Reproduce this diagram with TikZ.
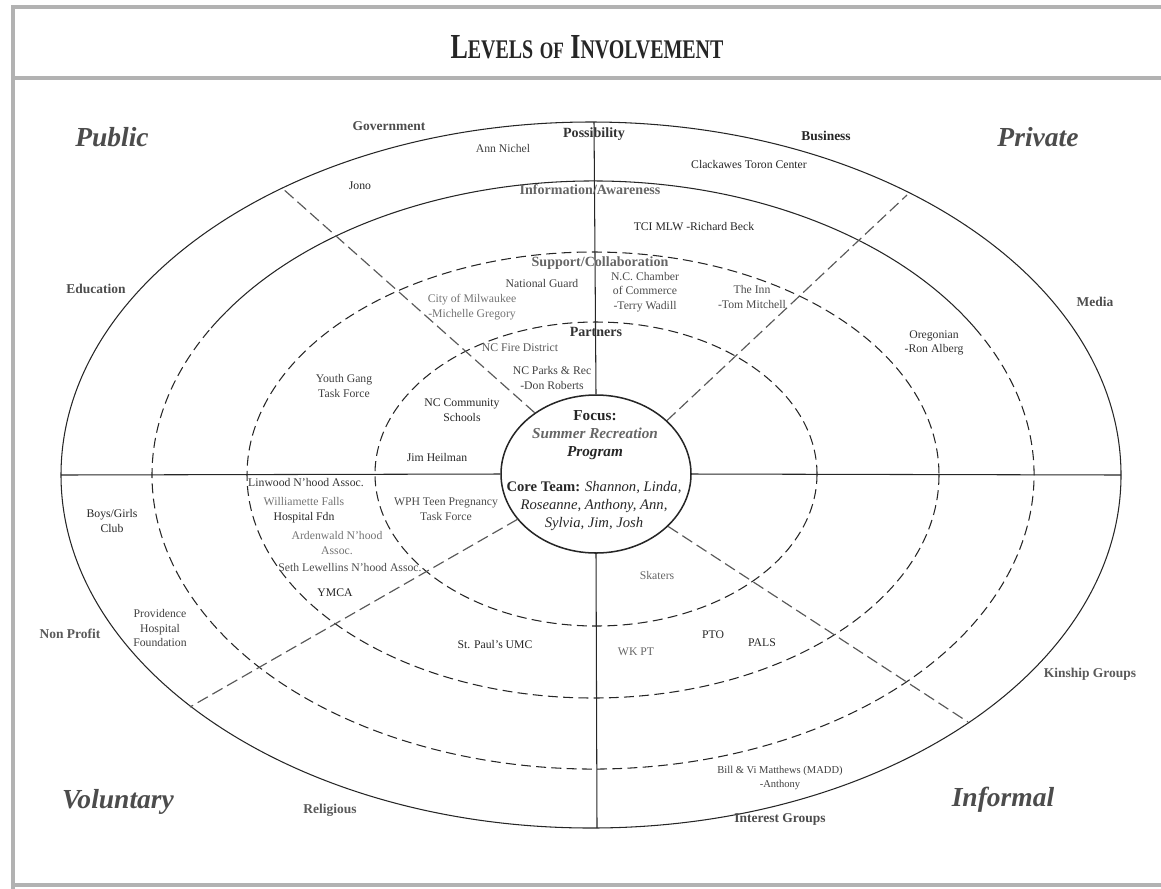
\documentclass[tikz,border=0pt]{standalone}
\usepackage{fontspec}
\setmainfont{Liberation Serif}
\usetikzlibrary{shapes.geometric}

\begin{document}
\begin{tikzpicture}[x=0.03cm,y=-0.03cm,
    ring/.style={black!85,line width=0.9pt},
    dashring/.style={ring,dash pattern=on 8.5pt off 4.5pt},
    spoke/.style={black!65,line width=1pt,dash pattern=on 10pt off 4.5pt},
    quarter/.style={font=\fontsize{23.5}{27}\selectfont\bfseries\itshape,text=black!70},
    sector/.style={font=\fontsize{11.5}{14}\selectfont\bfseries,text=black!70},
    level/.style={font=\fontsize{12}{14}\selectfont\bfseries,text=black!80},
    member/.style={font=\fontsize{10}{12.5}\selectfont,text=black!85,align=center,inner sep=0pt}]
  \useasboundingbox (0,0) rectangle (1161,888);
  \clip (0,0) rectangle (1161,888);
  \draw[black!30,line width=3.5pt] (13,900) -- (13,7) -- (1170,7);
  \draw[black!30,line width=3.5pt] (13,78) -- (1170,78);
  \draw[black!30,line width=3.5pt] (13,885) -- (1170,885);
  \node[anchor=base,text=black!85,inner sep=0pt] (title) at (587,58) {\bfseries\scalebox{0.74}[1]{\fontsize{30}{30}\selectfont L{\fontsize{23}{23}\selectfont EVELS} {\fontsize{20}{20}\selectfont OF} I{\fontsize{23}{23}\selectfont NVOLVEMENT}}};

  \draw[ring] (591,475) ellipse [x radius=530,y radius=353];
  \draw[ring] (211.1,328) arc [start angle=210,end angle=330,x radius=441,y radius=294];
  \draw[dashring] (974.9,328) arc [start angle=-30,end angle=210,x radius=441,y radius=294];
  \draw[dashring] (593,475) ellipse [x radius=346,y radius=223];
  \draw[dashring] (596,474) ellipse [x radius=221,y radius=152];
  \node[draw,ring,line width=1.3pt,ellipse,minimum width=5.7cm,minimum height=4.74cm,inner sep=0pt] (focus) at (596,474) {};

  \coordinate (otop) at (594,122);
  \coordinate (obot) at (597,828);
  \coordinate (oleft) at (61,475);
  \coordinate (oright) at (1121,475);
  \draw[ring] (otop) -- (focus.north);
  \draw[ring] (focus.south) -- (obot);
  \draw[ring] (oleft) -- (focus.west);
  \draw[ring] (focus.east) -- (oright);

  \coordinate (ul) at (282,188);
  \coordinate (ur) at (907,195);
  \coordinate (ll) at (190,707);
  \coordinate (lr) at (968,722);
  \draw[spoke] (focus.135) -- (ul);
  \draw[spoke] (focus.37) -- (ur);
  \draw[spoke] (focus.210) -- (ll);
  \draw[spoke] (focus.324) -- (lr);

  \node[quarter] (public) at (112,137) {Public};
  \node[quarter] (private) at (1038,137) {Private};
  \node[quarter] (voluntary) at (118,802) {Voluntary};
  \node[quarter] (informal) at (1003,800) {Informal};

  \node[level] (possib) at (594,134) {Possibility};
  \node[level,text=black!60] (inform) at (590,190) {Information/Awareness};
  \node[level,text=black!60] (support) at (600,263) {Support/Collaboration};
  \node[level] (partners) at (596,332) {Partners};

  \node[sector] (govt) at (389,126) {Government};
  \node[sector,text=black!85] (business) at (826,136) {Business};
  \node[sector] (educ) at (96,289) {Education};
  \node[sector] (media) at (1095,302) {Media};
  \node[sector,text=black!65] (nonprofit) at (70,634) {Non Profit};
  \node[sector,text=black!65] (kinship) at (1090,674) {Kinship Groups};
  \node[sector,text=black!65] (relig) at (330,810) {Religious};
  \node[sector] (interest) at (780,819) {Interest Groups};

  \node[align=center,font=\fontsize{13}{15.3}\selectfont,text=black!85] (focustext) at (595,435) {\textbf{Focus:}\\{\color{black!60}\textbf{\textit{Summer Recreation}}}\\\textbf{\textit{Program}}};
  \node[align=center,font=\fontsize{12.5}{15.5}\selectfont,text=black!85] (core) at (594,506) {\textbf{Core Team:} \textit{Shannon, Linda,}\\\textit{Roseanne, Anthony, Ann,}\\\textit{Sylvia, Jim, Josh}};

  \node[member,text=black!75] (ann) at (503,148) {Ann Nichel};
  \node[member] (clack) at (749,164) {Clackawes Toron Center};
  \node[member] (jono) at (360,186) {Jono};
  \node[member] (tci) at (694,227) {TCI MLW -Richard Beck};
  \node[member,text=black!75] (guard) at (542,283) {National Guard};
  \node[member,text=black!70] (chamber) at (645,292) {N.C. Chamber\\of Commerce\\-Terry Wadill};
  \node[member,text=black!70] (inn) at (752,297) {The Inn\\-Tom Mitchell};
  \node[member,text=black!55] (milw) at (472,307) {City of Milwaukee\\-Michelle Gregory};
  \node[member,text=black!65] (fire) at (520,348) {NC Fire District};
  \node[member,text=black!75] (parks) at (552,378) {NC Parks \& Rec\\-Don Roberts};
  \node[member,text=black!75] (youth) at (344,386) {Youth Gang\\Task Force};
  \node[member] (schools) at (462,410) {NC Community\\Schools};
  \node[member] (heilman) at (437,457) {Jim Heilman};
  \node[member,text=black!80] (linwood) at (306,483) {Linwood N'hood Assoc.};
  \node[member] (willam) at (304,510) {{\color{black!55}Williamette Falls}\\Hospital Fdn};
  \node[member,text=black!55] (arden) at (337,543) {Ardenwald N'hood\\Assoc.};
  \node[member,text=black!70] (seth) at (350,568) {Seth Lewellins N'hood Assoc.};
  \node[member] (ymca) at (335,593) {YMCA};
  \node[member,text=black!70] (wph) at (446,509) {WPH Teen Pregnancy\\Task Force};
  \node[member] (paul) at (495,645) {St. Paul's UMC};
  \node[member,text=black!60] (skaters) at (657,575) {Skaters};
  \node[member] (pto) at (713,635) {PTO};
  \node[member] (pals) at (762,643) {PALS};
  \node[member,text=black!60] (wkpt) at (636,652) {WK PT};
  \node[member,text=black!75,font=\fontsize{9}{11.5}\selectfont] (bill) at (780,778) {Bill \& Vi Matthews (MADD)\\-Anthony};
  \node[member] (boys) at (112,521) {Boys/Girls\\Club};
  \node[member,text=black!75] (prov) at (160,628) {Providence\\Hospital\\Foundation};
  \node[member,text=black!80] (oreg) at (934,343) {Oregonian\\-Ron Alberg};
\end{tikzpicture}
\end{document}
